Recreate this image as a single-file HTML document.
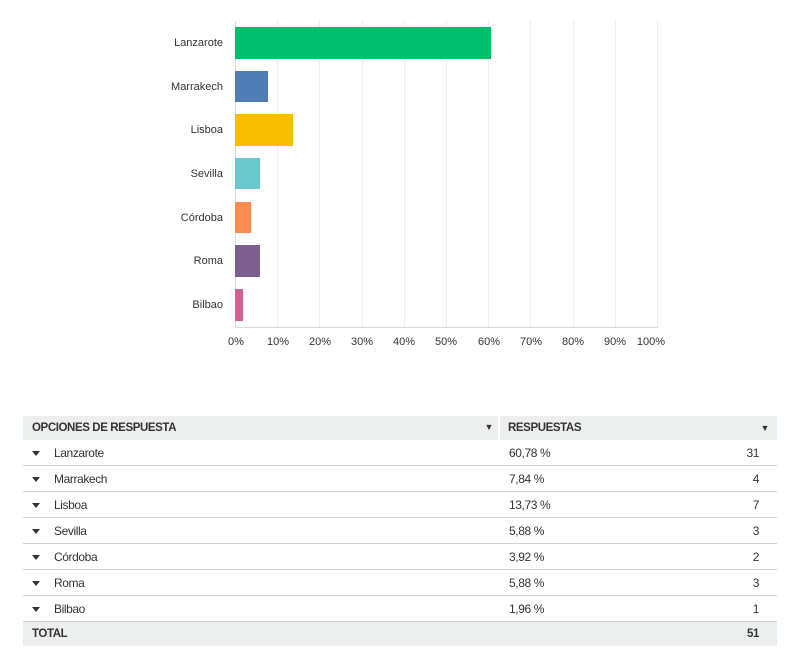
<!DOCTYPE html>
<html><head><meta charset="utf-8"><style>
body{margin:0;width:791px;height:660px;background:#fff;font-family:"Liberation Sans",sans-serif;position:relative;overflow:hidden;color:#333}
.a{position:absolute}
.lbl{position:absolute;right:568px;font-size:11px;color:#333;transform:translateY(-50%)}
.tk{position:absolute;top:336px;font-size:11px;color:#333;transform:translateX(-50%)}
table{position:absolute;left:23px;top:416px;width:754px;border-collapse:collapse;font-size:12px;color:#333;letter-spacing:-0.4px}
td{height:25px;border-bottom:1px solid #d0d2d3;padding:0;vertical-align:middle}
.h td{background:#edeeee;font-weight:bold;font-size:11.5px;height:24px;border-bottom:none}
.t td{background:#edeeee;font-weight:bold;font-size:11.5px;height:24px;border-bottom:none}
.c1{padding-left:9px}
.ar{display:inline-block;width:0;height:0;border-left:4px solid transparent;border-right:4px solid transparent;border-top:5px solid #333;margin-right:14px;vertical-align:middle}
</style></head><body>
<svg class="a" style="left:0;top:0" width="791" height="360">
<g stroke="#eeeeee" stroke-width="1">
<line x1="277.5" y1="21" x2="277.5" y2="327"/><line x1="319.5" y1="21" x2="319.5" y2="327"/><line x1="362.5" y1="21" x2="362.5" y2="327"/><line x1="404.5" y1="21" x2="404.5" y2="327"/><line x1="446.5" y1="21" x2="446.5" y2="327"/><line x1="488.5" y1="21" x2="488.5" y2="327"/><line x1="530.5" y1="21" x2="530.5" y2="327"/><line x1="573.5" y1="21" x2="573.5" y2="327"/><line x1="615.5" y1="21" x2="615.5" y2="327"/><line x1="657.5" y1="21" x2="657.5" y2="327"/>
</g>
<line x1="235.5" y1="21" x2="235.5" y2="327" stroke="#d9d9d9"/>
<line x1="235" y1="327.5" x2="658" y2="327.5" stroke="#d9d9d9"/>
<rect x="235" y="27" width="256" height="32" fill="#00bf6f"/>
<rect x="235" y="71" width="33" height="31" fill="#507cb6"/>
<rect x="235" y="114" width="58" height="32" fill="#f9be00"/>
<rect x="235" y="158" width="25" height="31" fill="#6bc8cd"/>
<rect x="235" y="202" width="16" height="31" fill="#ff8b4f"/>
<rect x="235" y="245" width="25" height="32" fill="#7d5e90"/>
<rect x="235" y="289" width="8" height="32" fill="#d25f90"/>
</svg>
<div class="lbl" style="top:43px">Lanzarote</div>
<div class="lbl" style="top:87px">Marrakech</div>
<div class="lbl" style="top:130px">Lisboa</div>
<div class="lbl" style="top:174px">Sevilla</div>
<div class="lbl" style="top:218px">Córdoba</div>
<div class="lbl" style="top:261px">Roma</div>
<div class="lbl" style="top:305px">Bilbao</div>
<div class="tk" style="left:236px">0%</div><div class="tk" style="left:278px">10%</div><div class="tk" style="left:320px">20%</div><div class="tk" style="left:362px">30%</div><div class="tk" style="left:404px">40%</div><div class="tk" style="left:446px">50%</div><div class="tk" style="left:489px">60%</div><div class="tk" style="left:531px">70%</div><div class="tk" style="left:573px">80%</div><div class="tk" style="left:615px">90%</div><div class="tk" style="left:651px">100%</div>
<table>
<tr class="h"><td class="c1" style="width:466px;border-right:2px solid #fff">OPCIONES DE RESPUESTA<span style="float:right;margin-right:5px;font-size:9px">▼</span></td><td style="padding-left:8px">RESPUESTAS</td><td style="text-align:right;padding-right:8px;font-size:9px">▼</td></tr>
<tr><td class="c1"><span class="ar"></span>Lanzarote</td><td style="padding-left:10px">60,78 %</td><td style="text-align:right;padding-right:18px">31</td></tr>
<tr><td class="c1"><span class="ar"></span>Marrakech</td><td style="padding-left:10px">7,84 %</td><td style="text-align:right;padding-right:18px">4</td></tr>
<tr><td class="c1"><span class="ar"></span>Lisboa</td><td style="padding-left:10px">13,73 %</td><td style="text-align:right;padding-right:18px">7</td></tr>
<tr><td class="c1"><span class="ar"></span>Sevilla</td><td style="padding-left:10px">5,88 %</td><td style="text-align:right;padding-right:18px">3</td></tr>
<tr><td class="c1"><span class="ar"></span>Córdoba</td><td style="padding-left:10px">3,92 %</td><td style="text-align:right;padding-right:18px">2</td></tr>
<tr><td class="c1"><span class="ar"></span>Roma</td><td style="padding-left:10px">5,88 %</td><td style="text-align:right;padding-right:18px">3</td></tr>
<tr><td class="c1"><span class="ar"></span>Bilbao</td><td style="padding-left:10px">1,96 %</td><td style="text-align:right;padding-right:18px">1</td></tr>
<tr class="t"><td class="c1">TOTAL</td><td></td><td style="text-align:right;padding-right:18px">51</td></tr>
</table>
</body></html>
